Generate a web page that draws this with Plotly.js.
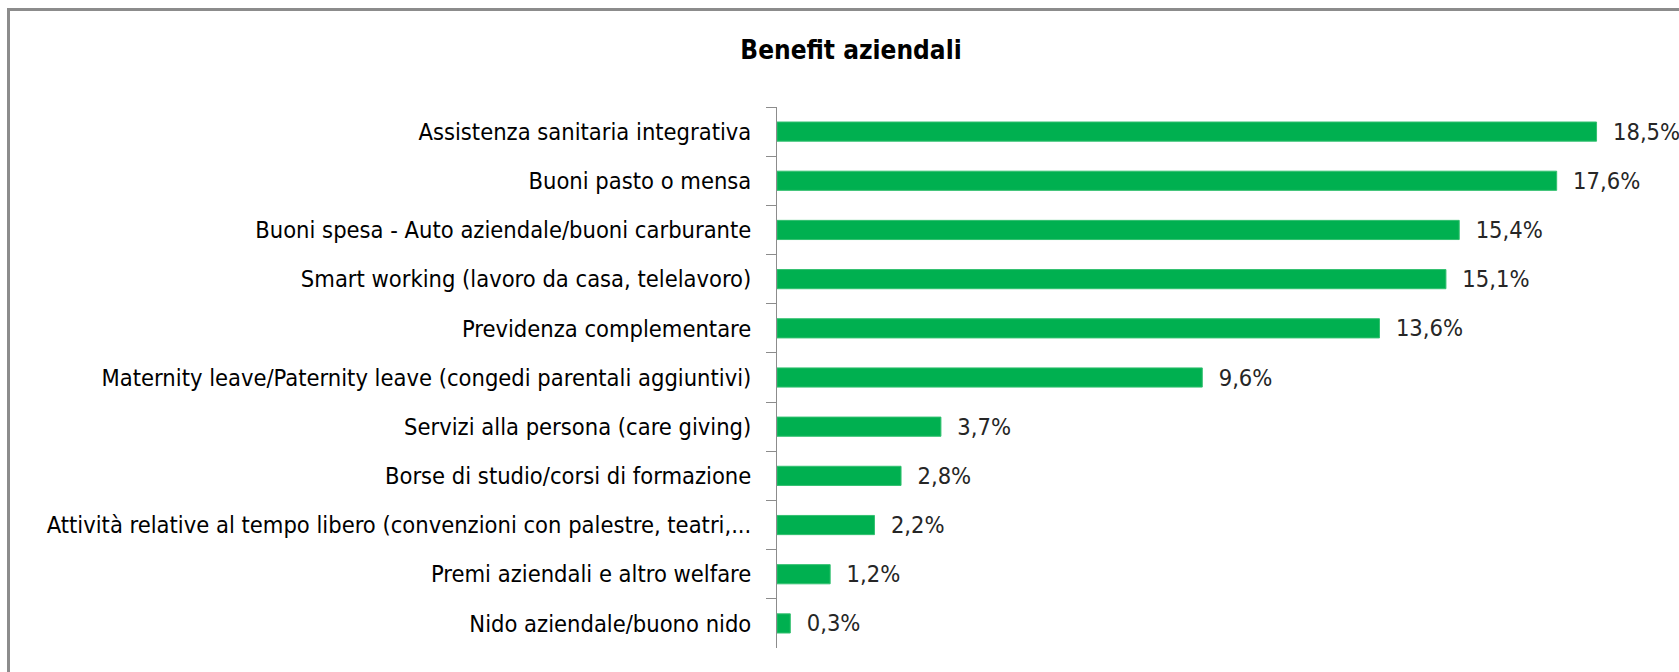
<!DOCTYPE html>
<html>
<head>
<meta charset="utf-8">
<script src="https://cdn.plot.ly/plotly-3.0.1.min.js"></script>
<style>
  html, body { margin: 0; padding: 0; background: #fff; }
  #wrap { position: relative; width: 1679px; height: 672px; overflow: hidden; }
  #frame { position: absolute; left: 7px; top: 8px; width: 1700px; height: 700px;
           border-top: 3px solid #8c8c8c; border-left: 3px solid #8c8c8c; pointer-events: none; }
  #chart { position: absolute; left: 0; top: 0; width: 1679px; height: 672px; }
</style>
</head>
<body>
<div id="wrap">
  <div id="chart"></div>
  <div id="frame"></div>
</div>
<script>
const categories = [
  "Assistenza sanitaria integrativa",
  "Buoni pasto o mensa",
  "Buoni spesa - Auto aziendale/buoni carburante",
  "Smart working (lavoro da casa, telelavoro)",
  "Previdenza complementare",
  "Maternity leave/Paternity leave (congedi parentali aggiuntivi)",
  "Servizi alla persona (care giving)",
  "Borse di studio/corsi di formazione",
  "Attività relative al tempo libero (convenzioni con palestre, teatri,...",
  "Premi aziendali e altro welfare",
  "Nido aziendale/buono nido"
];
const values = [18.5, 17.6, 15.4, 15.1, 13.6, 9.6, 3.7, 2.8, 2.2, 1.2, 0.3];
const chartTitle = "Benefit aziendali";

const FONT = "'Liberation Sans Narrow', 'DejaVu Sans Condensed', Arial, sans-serif";

const trace = {
  type: 'bar',
  orientation: 'h',
  y: categories,
  x: values,
  marker: { color: '#00B050', line: { color: '#33c070', width: 1 } },
  texttemplate: '\u00a0\u00a0%{x:.1f}%',
  textposition: 'outside',
  constraintext: 'none',
  cliponaxis: false,
  textfont: { family: FONT, size: 23.5, color: '#262626' },
  hoverinfo: 'none'
};

const layout = {
  width: 1679,
  height: 672,
  separators: ',.',
  paper_bgcolor: 'rgba(0,0,0,0)',
  plot_bgcolor: 'rgba(0,0,0,0)',
  margin: { l: 777, r: 16, t: 107, b: 24, pad: 0 },
  bargap: 0.61,
  showlegend: false,
  title: {
    text: '<b>' + chartTitle + '</b>',
    font: { family: FONT, size: 26, color: '#000' },
    x: 851 / 1679, xref: 'container', xanchor: 'center',
    y: 1 - 50 / 672, yref: 'container', yanchor: 'middle'
  },
  xaxis: {
    range: [0, 20],
    visible: false,
    fixedrange: true
  },
  yaxis: {
    type: 'category',
    autorange: 'reversed',
    showline: true,
    linecolor: '#8c8c8c',
    linewidth: 1,
    ticks: 'outside',
    tickson: 'boundaries',
    ticklen: 10,
    tickcolor: '#8c8c8c',
    showgrid: false,
    zeroline: false,
    tickfont: { family: FONT, size: 23.5, color: '#000' },
    ticklabelstandoff: 20,
    automargin: false
  }
};

Plotly.newPlot('chart', [trace], layout, { displayModeBar: false, staticPlot: true });
</script>
</body>
</html>
